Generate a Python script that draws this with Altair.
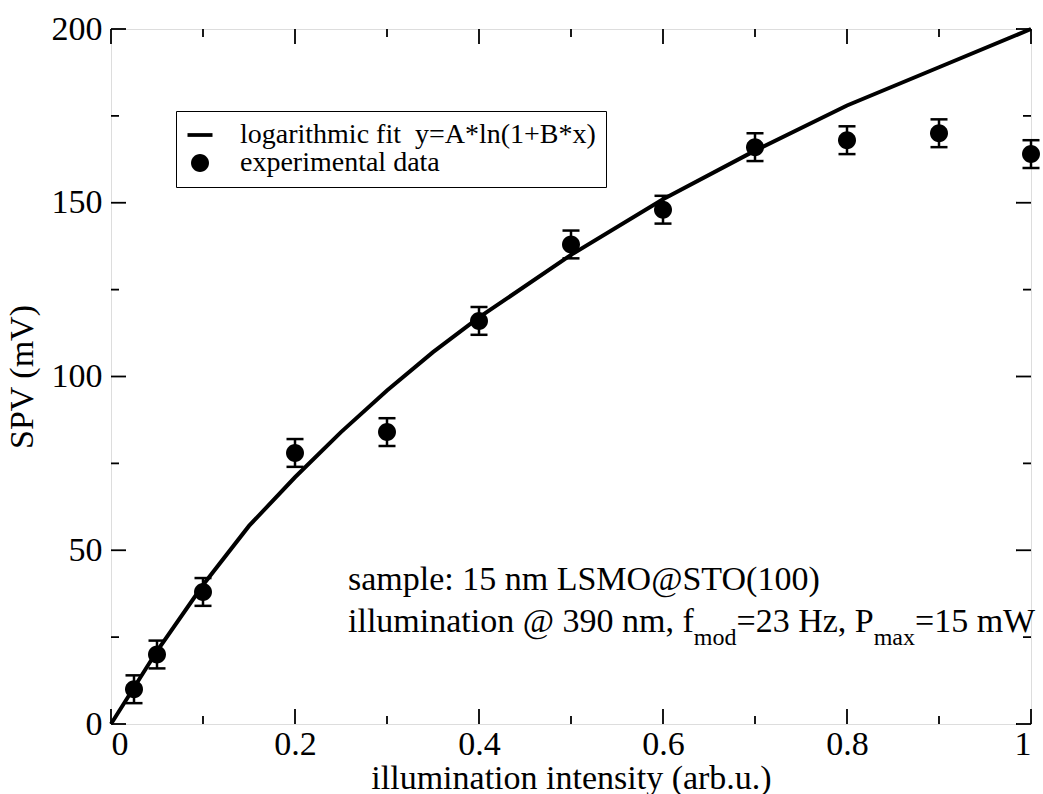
import altair as alt
import pandas as pd

# ---- data ----
intensity = [0.025, 0.05, 0.1, 0.2, 0.3, 0.4, 0.5, 0.6, 0.7, 0.8, 0.9, 1.0]
spv = [10, 20, 38, 78, 84, 116, 138, 148, 166, 168, 170, 164]
spv_err = [4, 4, 4, 4, 4, 4, 4, 4, 4, 4, 4, 4]

fit_x = [0, 0.05, 0.1, 0.15, 0.2, 0.25, 0.3, 0.35, 0.4, 0.5, 0.6, 0.7, 0.8, 0.9, 1.0]
fit_y = [0, 21, 40, 57, 71, 84, 96, 107, 117, 135, 151, 165, 178, 189, 200]

series_labels = ["logarithmic fit \u00a0y=A*ln(1+B*x)", "experimental data"]

x_major = [0, 0.2, 0.4, 0.6, 0.8, 1.0]
x_minor = [0.1, 0.3, 0.5, 0.7, 0.9]
y_major = [0, 50, 100, 150, 200]
y_minor = [25, 75, 125, 175]

# annotation segments (text, x, y in data units, font size)
ann_text = ["sample: 15 nm LSMO@STO(100)", "illumination @ 390 nm, f", "mod", "=23 Hz, P", "max", "=15 mW"]
ann_x = [0.2576, 0.2576, 0.6335, 0.6799, 0.8290, 0.8739]
ann_y = [38.6, 26.5, 22.6, 26.5, 22.6, 26.5]
ann_size = [34, 34, 24, 34, 24, 34]

FONT = "Liberation Serif"
W, H = 920, 695

pts = pd.DataFrame({
    "x": intensity, "y": spv,
    "lo": [v - e for v, e in zip(spv, spv_err)],
    "hi": [v + e for v, e in zip(spv, spv_err)],
    "series": series_labels[1],
})
fit = pd.DataFrame({"x": fit_x, "y": fit_y})
ann = pd.DataFrame({"t": ann_text, "x": ann_x, "y": ann_y, "s": ann_size})

xscale = alt.Scale(domain=[0, 1], nice=False, zero=False)
yscale = alt.Scale(domain=[0, 200], nice=False, zero=False)
xaxis = alt.Axis(values=x_major, format="~g", ticks=False, domain=False, grid=False,
                 labelFont=FONT, labelFontSize=34, labelColor="black", labelPadding=3,
                 titleFont=FONT, titleFontSize=34, titleFontWeight="normal",
                 titleColor="black", titlePadding=0)
yaxis = alt.Axis(values=y_major, format="d", ticks=False, domain=False, grid=False,
                 labelFont=FONT, labelFontSize=34, labelColor="black", labelPadding=9,
                 titleFont=FONT, titleFontSize=34, titleFontWeight="normal",
                 titleColor="black", titlePadding=12)


def X(field):
    return alt.X(field, type="quantitative", scale=xscale, axis=xaxis,
                 title="illumination intensity (arb.u.)")


def Y(field):
    return alt.Y(field, type="quantitative", scale=yscale, axis=yaxis, title="SPV (mV)")


DOT = "M-0.72,0 A0.72,0.72 0 1 1 0.72,0 A0.72,0.72 0 1 1 -0.72,0 Z"
LINE = "M-1,-0.15 L1,-0.15 L1,0.15 L-1,0.15 Z"

line = alt.Chart(fit).mark_line(color="black", strokeWidth=4).encode(x=X("x"), y=Y("y"))

bars = alt.Chart(pts).mark_rule(color="black", strokeWidth=2.5).encode(
    x=X("x"), y=Y("lo"), y2="hi")
cap_lo = alt.Chart(pts).mark_tick(color="black", orient="horizontal", size=17,
                                  thickness=2.5, opacity=1).encode(x=X("x"), y=Y("lo"))
cap_hi = alt.Chart(pts).mark_tick(color="black", orient="horizontal", size=17,
                                  thickness=2.5, opacity=1).encode(x=X("x"), y=Y("hi"))

points = alt.Chart(pts).mark_point(filled=True, color="black", size=625, opacity=1).encode(
    x=X("x"), y=Y("y"),
    shape=alt.Shape("series:N", scale=alt.Scale(domain=series_labels, range=[LINE, DOT]),
                    legend=alt.Legend(title=None, orient="none", legendX=65, legendY=82,
                                      strokeColor="black",
                                      fillColor="white", padding=10, rowPadding=-3,
                                      labelFont=FONT, labelFontSize=28,
                                      labelColor="black", labelLimit=800,
                                      labelOffset=26, symbolSize=625,
                                      symbolFillColor="black", symbolStrokeColor="black",
                                      symbolOpacity=1)))


def tick_layer(vals, axis, length):
    df = pd.DataFrame({"v": vals})
    base = alt.Chart(df).mark_rule(color="black", strokeWidth=1.8)
    if axis == "x":
        return (base.encode(x=X("v"), y=alt.value(H), y2=alt.value(H - length)) +
                base.encode(x=X("v"), y=alt.value(0), y2=alt.value(length)))
    return (base.encode(y=Y("v"), x=alt.value(0), x2=alt.value(length)) +
            base.encode(y=Y("v"), x=alt.value(W), x2=alt.value(W - length)))


ticks = (tick_layer(x_major, "x", 15) + tick_layer(x_minor, "x", 8) +
         tick_layer(y_major, "y", 15) + tick_layer(y_minor, "y", 8))

text = alt.Chart(ann).mark_text(font=FONT, align="left", baseline="alphabetic",
                                color="black").encode(
    x=X("x"), y=Y("y"), text="t:N", size=alt.Size("s:Q", scale=None, legend=None))

chart = alt.layer(line, bars, cap_lo, cap_hi, points, ticks, text).properties(
    width=W, height=H,
    autosize=alt.AutoSizeParams(type="none"),
    padding={"left": 111, "top": 29, "right": 12, "bottom": 70},
).configure_view(stroke="black", strokeWidth=2).configure(background="white")

chart.save("out.html", embed_options={"renderer": "svg", "actions": False})
